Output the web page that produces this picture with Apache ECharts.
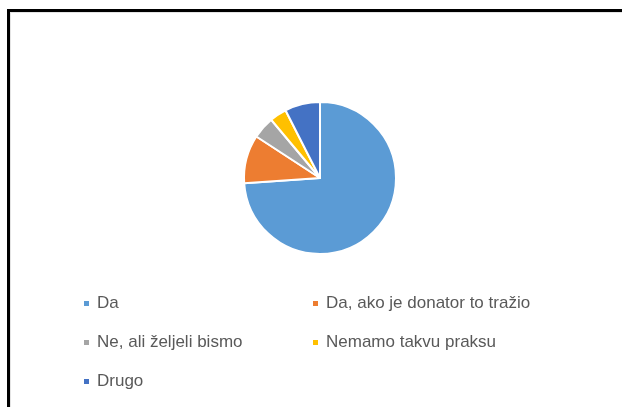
<!DOCTYPE html>
<html>
<head>
<meta charset="utf-8">
<script src="https://cdn.jsdelivr.net/npm/echarts@6/dist/echarts.min.js"></script>
<style>
  html, body { margin: 0; padding: 0; background: #fff; }
  .frame {
    position: absolute; left: 7px; top: 9px; width: 615px; height: 398px;
    border-top: 3px solid #000; border-left: 3px solid #000;
    box-sizing: border-box;
  }
  .frame-inner {
    position: absolute; left: 10px; top: 12px; width: 612px; height: 395px;
    border-top: 1px solid #e4e4e4; border-left: 1px solid #e4e4e4;
    box-sizing: border-box;
  }
  #chart { position: absolute; left: 0; top: 0; width: 622px; height: 407px; }
</style>
</head>
<body>
<div class="frame"></div>
<div class="frame-inner"></div>
<div id="chart"></div>
<script>
// odgovori
const categories = ['Da', 'Da, ako je donator to tražio', 'Ne, ali željeli bismo', 'Nemamo takvu praksu', 'Drugo'];
const values = [73.9, 10.3, 4.7, 3.6, 7.5];
const colors = ['#5B9BD5', '#ED7D31', '#A5A5A5', '#FFC000', '#4472C4'];

const leftCol = [categories[0], categories[2], categories[4]];
const rightCol = [categories[1], categories[3]];

const chart = echarts.init(document.getElementById('chart'));

const legendBase = {
  orient: 'vertical',
  top: 290,
  icon: 'rect',
  itemWidth: 7,
  itemHeight: 7,
  itemGap: 22,
  selectedMode: false,
  textStyle: {
    color: '#595959',
    fontSize: 17,
    fontFamily: 'Liberation Sans',
    padding: [0, 0, 0, 2],
  },
};

chart.setOption({
  animation: false,
  color: colors,
  legend: [
    Object.assign({}, legendBase, { left: 77, data: leftCol }),
    Object.assign({}, legendBase, { left: 306, data: rightCol }),
  ],
  series: [{
    type: 'pie',
    center: [320, 178],
    radius: [0, 76],
    startAngle: 90,
    clockwise: true,
    label: { show: false },
    labelLine: { show: false },
    emphasis: { disabled: true },
    itemStyle: {
      borderColor: '#fff',
      borderWidth: 2,
    },
    data: categories.map((name, i) => ({ name, value: values[i] })),
  }],
});
</script>
</body>
</html>
